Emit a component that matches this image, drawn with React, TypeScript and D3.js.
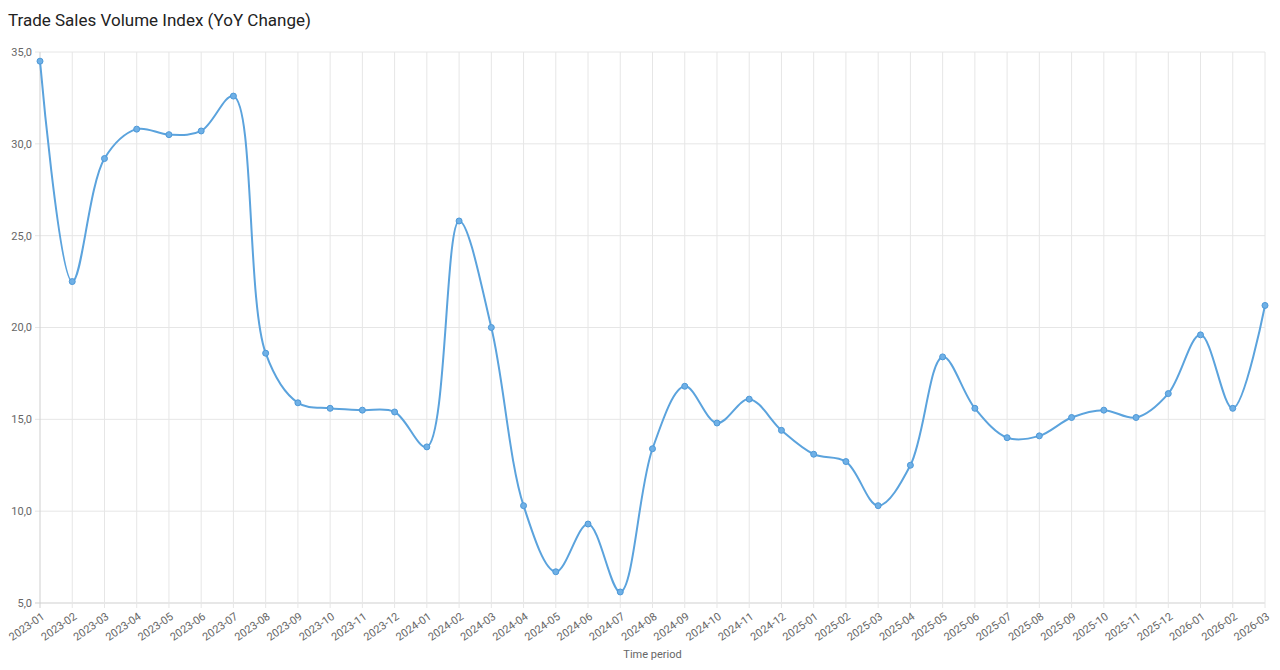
import React from 'react';
import * as d3 from 'd3';

const periods = [
  '2023-01', '2023-02', '2023-03', '2023-04', '2023-05', '2023-06', '2023-07', '2023-08',
  '2023-09', '2023-10', '2023-11', '2023-12', '2024-01', '2024-02', '2024-03', '2024-04',
  '2024-05', '2024-06', '2024-07', '2024-08', '2024-09', '2024-10', '2024-11', '2024-12',
  '2025-01', '2025-02', '2025-03', '2025-04', '2025-05', '2025-06', '2025-07', '2025-08',
  '2025-09', '2025-10', '2025-11', '2025-12', '2026-01', '2026-02', '2026-03',
];

const yoyChange = [
  34.5, 22.5, 29.2, 30.8, 30.5, 30.7, 32.6, 18.6,
  15.9, 15.6, 15.5, 15.4, 13.5, 25.8, 20.0, 10.3,
  6.7, 9.3, 5.6, 13.4, 16.8, 14.8, 16.1, 14.4,
  13.1, 12.7, 10.3, 12.5, 18.4, 15.6, 14.0, 14.1,
  15.1, 15.5, 15.1, 16.4, 19.6, 15.6, 21.2,
];

const yTicks = [5, 10, 15, 20, 25, 30, 35];

const WIDTH = 1280;
const HEIGHT = 670;
const margin = { left: 40, right: 15, top: 52, bottom: 67 };

const FONT = 'Roboto, "Noto Sans", sans-serif';

const App: React.FC = () => {
  const x = d3.scalePoint<string>()
    .domain(periods)
    .range([margin.left, WIDTH - margin.right]);

  const y = d3.scaleLinear()
    .domain([5, 35])
    .range([HEIGHT - margin.bottom, margin.top]);

  const fmt = (v: number) => d3.format('.1f')(v).replace('.', ',');

  const line = d3.line<number>()
    .x((_, i) => x(periods[i]) as number)
    .y(d => y(d))
    .curve(d3.curveCatmullRom.alpha(0.5));

  const bottom = HEIGHT - margin.bottom;

  return (
    <svg width={WIDTH} height={HEIGHT} style={{ position: 'absolute', left: 0, top: 0, background: '#fff' }}>
      <text x={8} y={26} fontFamily={FONT} fontSize={17} fill="#222">
        Trade Sales Volume Index (YoY Change)
      </text>

      {/* grid: horizontal */}
      {yTicks.map(t => (
        <g key={t}>
          <line x1={margin.left - 5} x2={WIDTH - margin.right} y1={y(t)} y2={y(t)}
            stroke={t === 5 ? '#cfcfcf' : '#e6e6e6'} strokeWidth={1} />
          <text x={margin.left - 8} y={y(t)} dy="0.35em" textAnchor="end"
            fontFamily={FONT} fontSize={11} fill="#666">{fmt(t)}</text>
        </g>
      ))}

      {/* grid: vertical + x labels */}
      {periods.map((p, i) => {
        const px = x(p) as number;
        return (
          <g key={p}>
            <line x1={px} x2={px} y1={margin.top} y2={bottom + 5}
              stroke={i === 0 ? '#cfcfcf' : '#e6e6e6'} strokeWidth={1} />
            <text transform={`translate(${px + 3},${bottom + 12}) rotate(-35)`}
              textAnchor="end" dy="0.35em" fontFamily={FONT} fontSize={11} fill="#666">{p}</text>
          </g>
        );
      })}

      <text x={(margin.left + WIDTH - margin.right) / 2} y={658} textAnchor="middle"
        fontFamily={FONT} fontSize={11} fill="#666">Time period</text>

      <path d={line(yoyChange) ?? ''} fill="none" stroke="#5ba3dd" strokeWidth={2} />

      {yoyChange.map((v, i) => (
        <circle key={periods[i]} cx={x(periods[i]) as number} cy={y(v)} r={3}
          fill="#6fb0e6" stroke="#4e99d8" strokeWidth={1} />
      ))}
    </svg>
  );
};

export default App;
